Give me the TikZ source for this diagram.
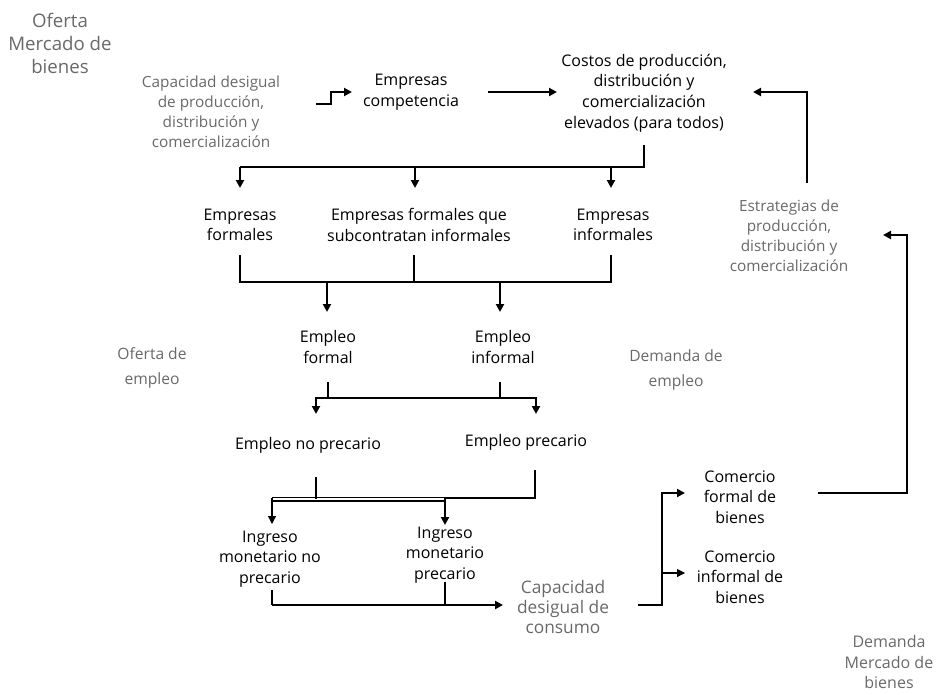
\documentclass[tikz,border=0pt]{standalone}
\usepackage{fontspec}
\setmainfont{Open Sans}
\usetikzlibrary{arrows.meta}
\definecolor{lblgray}{RGB}{105,105,105}
\begin{document}
\begin{tikzpicture}[x=0.75pt,y=-0.75pt,
  txt/.style={align=center,inner sep=0pt,font=\fontsize{12}{15.5}\selectfont},
  gtxt/.style={align=center,inner sep=0pt,text=lblgray,font=\fontsize{11.5}{15}\selectfont},
  gwide/.style={align=center,inner sep=0pt,text=lblgray,font=\fontsize{11.7}{18.5}\selectfont},
  big/.style={align=center,inner sep=0pt,text=lblgray,font=\fontsize{14}{17.25}\selectfont},
  conn/.style={line width=1.5pt},
  thinln/.style={line width=0.8pt},
  arr/.style={-{Triangle[length=6pt,width=6pt]}},
]
\useasboundingbox (0,0) rectangle (936,694);

% nodes
\node[big]  (ofertaMB) at (60,43)  {Oferta\\Mercado de\\bienes};
\node[gtxt] (capprod)  at (211,112) {Capacidad desigual\\de producción,\\distribución y\\comercialización};
\node[txt]  (empcomp)  at (411,92)  {Empresas\\competencia};
\node[txt]  (costos)   at (644,93)  {Costos de producción,\\distribución y\\comercialización\\elevados (para todos)};
\node[gtxt] (estrat)   at (789,236) {Estrategias de\\producción,\\distribución y\\comercialización};
\node[txt]  (empf)     at (240,225) {Empresas\\formales};
\node[txt]  (empsub)   at (419,225) {Empresas formales que\\subcontratan informales};
\node[txt]  (empi)     at (613,225) {Empresas\\informales};
\node[txt]  (emplf)    at (328,347) {Empleo\\formal};
\node[txt]  (empli)    at (503,347) {Empleo\\informal};
\node[gwide] (ofemp)   at (152,368) {Oferta de\\empleo};
\node[gwide] (dememp)  at (676,370) {Demanda de\\empleo};
\node[txt]  (empnp)    at (308,445) {Empleo no precario};
\node[txt]  (empp)     at (526,442) {Empleo precario};
\node[txt]  (ingnp)    at (270,559) {Ingreso\\monetario no\\precario};
\node[txt]  (ingp)     at (445,555) {Ingreso\\monetario\\precario};
\node[gtxt,font=\fontsize{13}{15.2}\selectfont] (capcons) at (563,607) {Capacidad\\desigual de\\consumo};
\node[txt]  (comf)     at (740,497) {Comercio\\formal de\\bienes};
\node[txt]  (comi)     at (740,577) {Comercio\\informal de\\bienes};
\node[gtxt,font=\fontsize{12}{15.5}\selectfont] (demMB) at (889,662) {Demanda\\Mercado de\\bienes};

% connector points
\coordinate (capprodOut) at (316,104);
\coordinate (empcompIn)  at (352,92);
\coordinate (empcompOut) at (488,92);
\coordinate (costosIn)   at (557,92);
\coordinate (costosOut)  at (644,145);
\coordinate (costosBus)  at (644,167);
\coordinate (empfIn)     at (240,188);
\coordinate (empsubIn)   at (415,188);
\coordinate (empiIn)     at (611,188);
\coordinate (empfOut)    at (240,255);
\coordinate (empsubOut)  at (414,255);
\coordinate (empiOut)    at (611,255);
\coordinate (emplfIn)    at (327,312);
\coordinate (empliIn)    at (500,312);
\coordinate (emplfOut)   at (328,382);
\coordinate (empliOut)   at (500,382);
\coordinate (emplBus)    at (328,398);
\coordinate (empnpIn)    at (316,414);
\coordinate (emppIn)     at (536,414);
\coordinate (empnpOut)   at (316,477);
\coordinate (emppOut)    at (535,470);
\coordinate (ingnpIn)    at (272,524);
\coordinate (ingpIn)     at (445,525);
\coordinate (ingnpOut)   at (272,590);
\coordinate (ingpOut)    at (445,582);
\coordinate (capconsIn)  at (503,605);
\coordinate (capconsOut) at (638,605);
\coordinate (comfIn)     at (685,493);
\coordinate (comiIn)     at (685,573);
\coordinate (comfOut)    at (818,493);
\coordinate (estratIn)   at (883,235);
\coordinate (estratOut)  at (807,183);
\coordinate (costosIn2)  at (753,92);

% connectors
\draw[conn,arr] (capprodOut) -- ++(15,0) |- (empcompIn);
\draw[conn,arr] (empcompOut) -- (costosIn);

\draw[conn] (costosOut) -- (costosBus) -- (costosBus -| empfIn);
\draw[conn,arr] (costosBus -| empfIn) -- (empfIn);
\draw[conn,arr] (costosBus -| empsubIn) -- (empsubIn);
\draw[conn,arr] (costosBus -| empiIn) -- (empiIn);

\draw[conn] (empfOut) -- ++(0,27) -| (empiOut);
\draw[conn] (empsubOut) -- ++(0,27);
\draw[conn,arr] (emplfIn |- 0,282) -- (emplfIn);
\draw[conn,arr] (empliIn |- 0,282) -- (empliIn);

\draw[line width=2.2pt] (emplfOut) -- (emplBus);
\draw[thinln] (empliOut) -- (empliOut |- emplBus);
\draw[conn,arr] (emplBus) -| (empnpIn);
\draw[conn,arr] (emplBus) -| (emppIn);

\draw[thinln] (empnpOut) -- (316,499);
\draw[conn] (emppOut) -- (535,498) -- (445,498);
\draw[thinln] (272,497.5) -- (445,497.5);
\draw[thinln] (272,501) -- (445,501);
\draw[thinln,arr] (272,497.5) -- (ingnpIn);
\draw[conn,arr] (445,498) -- (ingpIn);

\draw[conn] (ingnpOut) -- (272,605);
\draw[conn] (ingpOut) -- (445,605);
\draw[conn,arr] (272,605) -- (capconsIn);

\draw[conn,arr] (capconsOut) -- (662,605) |- (comfIn);
\draw[thinln,arr] (662,573) -- (comiIn);

\draw[conn,arr] (comfOut) -- (907,493) |- (estratIn);
\draw[conn,arr] (estratOut) |- (costosIn2);
\end{tikzpicture}
\end{document}
